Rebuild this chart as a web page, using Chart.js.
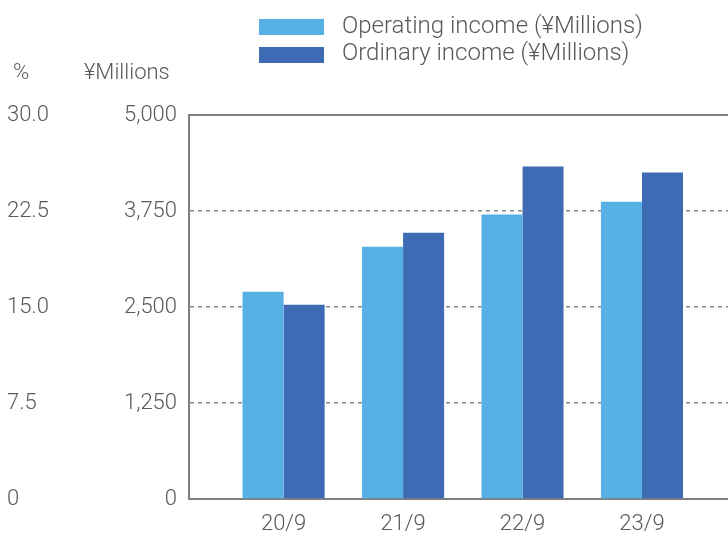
<!DOCTYPE html>
<html>
<head>
<meta charset="utf-8">
<script src="https://cdn.jsdelivr.net/npm/chart.js@4/dist/chart.umd.min.js"></script>
<style>
  html, body { margin: 0; padding: 0; background: #fff; overflow: hidden; }
  #wrap { position: relative; width: 728px; height: 536px; }
  #c { position: absolute; left: 0; top: 0; }
  .t { position: absolute; font-family: Roboto, 'Liberation Sans', sans-serif; font-weight: 300; color: #595959; white-space: nowrap; line-height: 1; }
  .box { position: absolute; width: 65px; height: 16px; }
</style>
</head>
<body>
<div id="wrap">
  <canvas id="c" width="728" height="536"></canvas>
  <div class="box" id="b0" style="left:259px; top:19px;"></div>
  <div class="t" id="l0" style="left:342px; top:13px; font-size:24px;"></div>
  <div class="box" id="b1" style="left:259px; top:47px;"></div>
  <div class="t" id="l1" style="left:342px; top:40px; font-size:24px;"></div>
  <div class="t" id="ut0" style="left:13px; top:61px; font-size:22px;"></div>
  <div class="t" id="ut1" style="left:84px; top:61px; font-size:22px;"></div>
</div>
<script>
const categories = ['20/9', '21/9', '22/9', '23/9'];
const operatingIncome = [2700, 3285, 3705, 3870];
const ordinaryIncome = [2530, 3468, 4330, 4250];
const seriesNames = ['Operating income (¥Millions)', 'Ordinary income (¥Millions)'];
const seriesColors = ['#56B0E3', '#3F6BB4'];
const yenTicks = [0, 1250, 2500, 3750, 5000];
const pctTicks = [0, 7.5, 15, 22.5, 30];
const unitTitles = ['%', '¥Millions'];

const textColor = '#595959';
const fontFamily = "Roboto, 'Liberation Sans', sans-serif";

document.getElementById('b0').style.background = seriesColors[0];
document.getElementById('b1').style.background = seriesColors[1];
document.getElementById('l0').textContent = seriesNames[0];
document.getElementById('l1').textContent = seriesNames[1];
document.getElementById('ut0').textContent = unitTitles[0];
document.getElementById('ut1').textContent = unitTitles[1];

const toPoints = arr => arr.map((v, i) => ({ x: i + 1, y: v }));

new Chart(document.getElementById('c'), {
  type: 'bar',
  data: {
    datasets: [
      { label: seriesNames[0], data: toPoints(operatingIncome), backgroundColor: seriesColors[0], borderWidth: 0 },
      { label: seriesNames[1], data: toPoints(ordinaryIncome), backgroundColor: seriesColors[1], borderWidth: 0 }
    ]
  },
  options: {
    responsive: false,
    animation: false,
    devicePixelRatio: 1,
    categoryPercentage: 0.687,
    barPercentage: 1.0,
    layout: { padding: { left: 7, top: 115, right: 0, bottom: 0 } },
    plugins: { legend: { display: false }, tooltip: { enabled: false } },
    font: { family: fontFamily },
    scales: {
      x: {
        type: 'linear',
        position: 'bottom',
        offset: false,
        min: 0.208,
        max: 4.72,
        grid: { display: false, drawTicks: false, offset: false },
        border: { display: true, color: '#808080', width: 2 },
        afterFit: s => { s.height = 37; },
        ticks: {
          stepSize: 1,
          includeBounds: false,
          autoSkip: false,
          maxRotation: 0,
          padding: 12,
          color: textColor,
          font: { family: fontFamily, size: 22, weight: 300 },
          callback: v => Number.isInteger(v) && categories[v - 1] ? categories[v - 1] : ''
        }
      },
      xTop: {
        type: 'linear',
        position: 'top',
        offset: false,
        min: 0.208,
        max: 4.72,
        grid: { display: false, drawTicks: false, offset: false },
        border: { display: true, color: '#808080', width: 2 },
        ticks: { display: false },
        afterFit: s => { s.height = 0; }
      },
      y: {
        type: 'linear',
        position: 'left',
        weight: 0,
        min: 0,
        max: 5000,
        afterBuildTicks: s => { s.ticks = yenTicks.map(v => ({ value: v })); },
        afterFit: s => { s.width = 122; },
        grid: { display: true, drawTicks: false, color: '#8a8a8a', lineWidth: 1.5 },
        border: { display: true, color: '#808080', width: 2, dash: [4, 4] },
        ticks: {
          padding: 12,
          color: textColor,
          font: { family: fontFamily, size: 22, weight: 300 },
          callback: v => v.toLocaleString('en-US')
        }
      },
      yPct: {
        type: 'linear',
        position: 'left',
        display: true,
        weight: 1,
        min: 0,
        max: 30,
        afterBuildTicks: s => { s.ticks = pctTicks.map(v => ({ value: v })); },
        afterFit: s => { s.width = 60; },
        grid: { display: false, drawTicks: false },
        border: { display: false },
        ticks: {
          crossAlign: 'far',
          padding: 0,
          color: textColor,
          font: { family: fontFamily, size: 22, weight: 300 },
          callback: v => v === 0 ? '0' : v.toFixed(1)
        }
      }
    }
  }
});
</script>
</body>
</html>
